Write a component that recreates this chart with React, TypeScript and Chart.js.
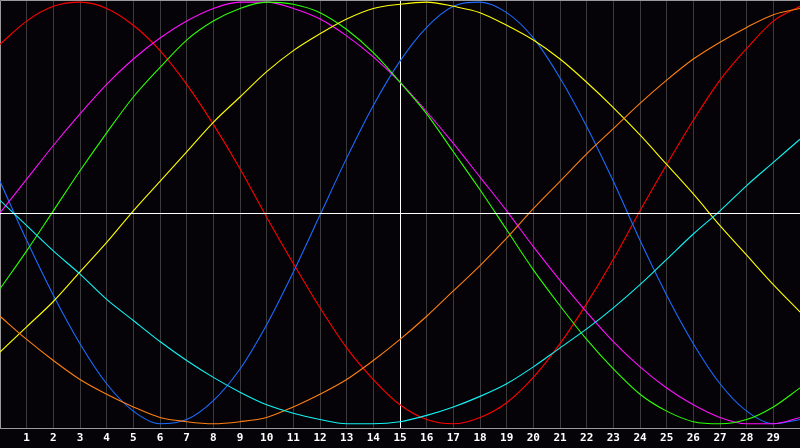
import { useEffect, useRef } from 'react';
import { Chart, registerables, Plugin } from 'chart.js';

Chart.register(...registerables);

const X_LABELS = ['', '1', '2', '3', '4', '5', '6', '7', '8', '9', '10', '11', '12', '13', '14', '15', '16', '17', '18', '19', '20', '21', '22', '23', '24', '25', '26', '27', '28', '29', ''];

const RED     = [0.80, 0.91, 0.98, 1.00, 0.97, 0.89, 0.77, 0.61, 0.42, 0.21, -0.02, -0.24, -0.45, -0.64, -0.79, -0.91, -0.98, -1.00, -0.97, -0.90, -0.78, -0.62, -0.43, -0.22, 0.01, 0.23, 0.44, 0.63, 0.78, 0.91, 0.98];
const MAGENTA = [0.00, 0.16, 0.32, 0.47, 0.61, 0.73, 0.83, 0.91, 0.97, 1.00, 1.00, 0.97, 0.92, 0.84, 0.74, 0.62, 0.48, 0.33, 0.17, 0.01, -0.16, -0.32, -0.47, -0.61, -0.73, -0.83, -0.91, -0.97, -1.00, -1.00, -0.97];
const GREEN   = [-0.36, -0.18, 0.01, 0.20, 0.38, 0.55, 0.69, 0.82, 0.91, 0.97, 1.00, 0.99, 0.95, 0.87, 0.76, 0.62, 0.47, 0.29, 0.11, -0.08, -0.27, -0.44, -0.60, -0.74, -0.86, -0.94, -0.99, -1.00, -0.98, -0.92, -0.83];
const YELLOW  = [-0.66, -0.54, -0.42, -0.28, -0.14, 0.01, 0.15, 0.29, 0.43, 0.55, 0.67, 0.77, 0.85, 0.92, 0.97, 0.99, 1.00, 0.98, 0.95, 0.89, 0.82, 0.73, 0.62, 0.50, 0.37, 0.23, 0.09, -0.06, -0.20, -0.34, -0.47];
const BLUE    = [0.15, -0.13, -0.39, -0.62, -0.81, -0.94, -1.00, -0.98, -0.89, -0.74, -0.53, -0.28, -0.01, 0.26, 0.51, 0.72, 0.88, 0.98, 1.00, 0.95, 0.83, 0.64, 0.41, 0.15, -0.13, -0.39, -0.62, -0.81, -0.94, -1.00, -0.98];
const ORANGE  = [-0.49, -0.60, -0.70, -0.79, -0.86, -0.92, -0.97, -0.99, -1.00, -0.99, -0.97, -0.92, -0.86, -0.79, -0.70, -0.60, -0.49, -0.37, -0.25, -0.12, 0.02, 0.15, 0.28, 0.40, 0.52, 0.63, 0.73, 0.81, 0.88, 0.94, 0.97];
const CYAN    = [0.06, -0.06, -0.18, -0.29, -0.41, -0.51, -0.61, -0.70, -0.78, -0.85, -0.91, -0.95, -0.98, -1.00, -1.00, -0.99, -0.96, -0.92, -0.87, -0.81, -0.73, -0.64, -0.55, -0.45, -0.34, -0.22, -0.10, 0.01, 0.13, 0.24, 0.35];

const BG = '#050308';
const GRID = '#3a3a3a';
const FRAME = '#9a9a9a';

// background, top/left frame and the white zero line
const framePlugin: Plugin = {
  id: 'frame',
  beforeDraw(chart) {
    const { ctx, width, height } = chart;
    ctx.save();
    ctx.fillStyle = BG;
    ctx.fillRect(0, 0, width, height);
    ctx.restore();
  },
  beforeDatasetsDraw(chart) {
    const { ctx, chartArea: a } = chart;
    ctx.save();
    ctx.strokeStyle = FRAME;
    ctx.lineWidth = 1;
    ctx.beginPath();
    ctx.moveTo(a.left + 0.5, a.bottom);
    ctx.lineTo(a.left + 0.5, a.top + 0.5);
    ctx.lineTo(a.right, a.top + 0.5);
    ctx.stroke();
    ctx.restore();
  },
  afterDatasetsDraw(chart) {
    const { ctx, chartArea: a, scales } = chart;
    const y = Math.round(scales.y.getPixelForValue(0)) + 0.5;
    ctx.save();
    ctx.strokeStyle = '#ffffff';
    ctx.lineWidth = 1;
    ctx.beginPath();
    ctx.moveTo(a.left, y);
    ctx.lineTo(a.right, y);
    ctx.stroke();
    ctx.restore();
  },
};

const line = (data: number[], color: string) => ({
  data,
  borderColor: color,
  borderWidth: 1.1,
  pointRadius: 0,
  pointHoverRadius: 0,
  cubicInterpolationMode: 'monotone' as const,
  fill: false,
});

export default function App() {
  const ref = useRef<HTMLCanvasElement>(null);
  const chart = useRef<Chart | null>(null);

  useEffect(() => {
    if (!ref.current) return;
    chart.current?.destroy();
    chart.current = new Chart(ref.current, {
      type: 'line',
      data: {
        labels: X_LABELS,
        datasets: [
          line(CYAN, '#10f4f4'),
          line(ORANGE, '#ff7f10'),
          line(YELLOW, '#ffff00'),
          line(GREEN, '#2cff00'),
          line(MAGENTA, '#ff10ff'),
          line(BLUE, '#1a6cff'),
          line(RED, '#ff0000'),
        ],
      },
      options: {
        responsive: false,
        animation: false,
        layout: { autoPadding: false, padding: 0 },
        plugins: { legend: { display: false }, tooltip: { enabled: false } },
        scales: {
          x: {
            type: 'category',
            offset: false,
            grid: {
              color: (c) => (c.index === 15 ? '#ffffff' : c.index === 0 || c.index === 30 ? 'rgba(0,0,0,0)' : GRID),
              lineWidth: 1,
              drawTicks: false,
            },
            border: { display: true, color: FRAME },
            ticks: {
              color: '#ffffff',
              font: { family: '"DejaVu Sans Mono", monospace', size: 11, weight: 'bold', lineHeight: '20px' },
              padding: 0,
              autoSkip: false,
              maxRotation: 0,
            },
          },
          y: {
            display: false,
            min: -1.02,
            max: 1.01,
          },
        },
      },
      plugins: [framePlugin],
    });
    return () => { chart.current?.destroy(); };
  }, []);

  return (
    <div style={{ position: 'fixed', left: 0, top: 0, width: 800, height: 448, background: BG }}>
      <canvas ref={ref} width={800} height={448} style={{ display: 'block' }} />
    </div>
  );
}
